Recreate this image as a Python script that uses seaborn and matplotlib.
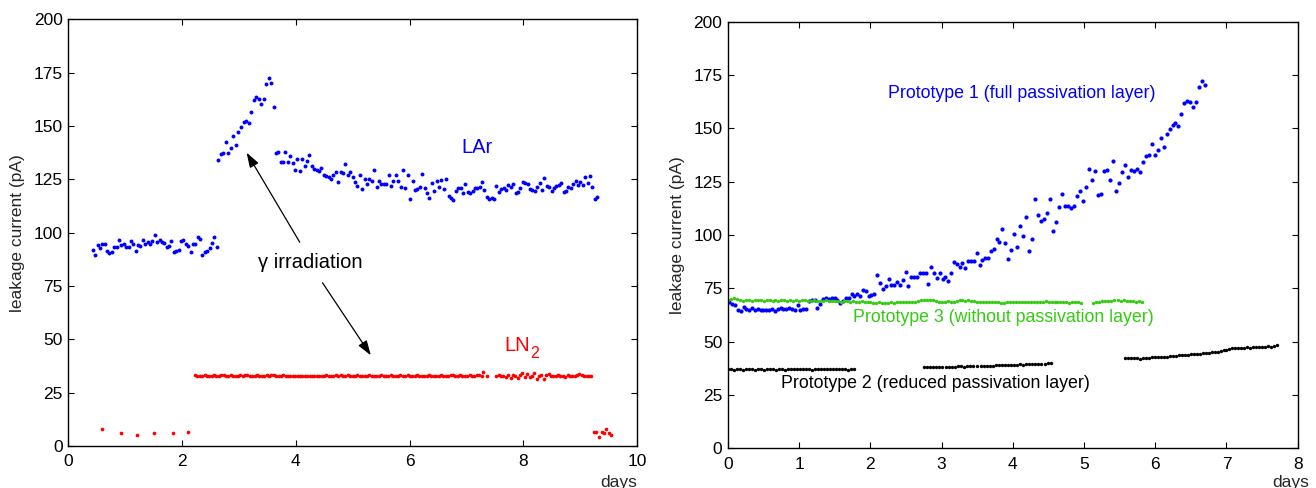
import numpy as np
import pandas as pd
import matplotlib
matplotlib.use("Agg")
import matplotlib.pyplot as plt
import seaborn as sns

# ---------------- data: left panel (LAr / LN2) ----------------
lar_a_range = (0.43, 2.61)
lar_a = [91.9, 89.4, 94.2, 92.7, 94.5, 94.8, 91.6, 90.5, 90.8, 93.1, 93.1, 96.6, 94.2, 94.8, 93.1,
         93.1, 96.1, 94.5, 91.4, 94.2, 93.9, 96.6, 94.8, 95.8, 94.8, 96.1, 99.1, 95.5, 96.6, 95.8,
         95.2, 93.3, 93.8, 96.1, 90.8, 91.3, 91.7, 96.1, 96.6, 94.5, 93.9, 90.8, 94.8, 94.8, 98.1,
         97.0, 89.4, 91.0, 91.6, 92.8, 95.2, 98.1, 93.3]
lar_b_range = (2.64, 3.61)
lar_b = [134.2, 137.0, 137.5, 142.7, 137.5, 139.5, 145.3, 141.1, 147.3, 149.7, 152.0, 152.3,
         151.3, 156.7, 162.0, 163.4, 162.5, 160.2, 162.5, 169.5, 172.3, 170.3, 159.1]
lar_c_range = (3.65, 9.30)
lar_c = [137.4, 137.7, 133.2, 133.2, 137.7, 133.2, 136.1, 132.8, 129.2, 134.7,
         128.8, 134.4, 131.1, 133.6, 136.3, 131.3, 129.7, 129.4, 129.1, 130.2,
         126.9, 126.6, 126.3, 125.0, 126.9, 128.3, 123.6, 128.3, 127.8, 132.4,
         126.9, 128.3, 126.0, 123.6, 121.9, 126.9, 120.5, 125.3, 122.7, 125.3,
         124.1, 129.2, 121.4, 124.4, 122.7, 122.7, 122.7, 126.9, 121.9, 124.4,
         126.9, 124.1, 121.4, 129.4, 121.0, 126.9, 115.6, 124.1, 119.9, 120.5,
         121.4, 127.5, 121.0, 118.8, 116.1, 123.2, 119.6, 124.1, 121.4, 124.6,
         120.5, 125.0, 117.2, 116.1, 115.2, 119.6, 121.0, 121.0, 118.6, 122.7,
         118.9, 118.6, 119.6, 120.7, 120.7, 121.4, 123.6, 120.0, 116.6, 115.6,
         116.4, 115.6, 121.9, 119.1, 120.5, 121.0, 120.0, 122.2, 121.4, 122.7,
         118.6, 119.1, 121.0, 123.6, 123.2, 122.7, 120.5, 120.0, 119.6, 121.4,
         123.2, 120.0, 125.5, 121.9, 121.4, 119.6, 121.0, 121.9, 122.4, 123.2,
         119.1, 119.6, 121.4, 121.0, 122.7, 124.1, 122.4, 123.6, 122.4, 126.0,
         123.2, 126.4, 121.4, 115.6, 116.7]

ln2_a_x = [0.587, 0.921, 1.213, 1.501, 1.835, 2.109]
ln2_a = [8.0, 6.2, 5.2, 5.9, 5.9, 6.4]
ln2_b_range = (2.227, 7.267)
ln2_b = [33.2, 33.0, 32.9, 33.0, 33.1, 33.0, 32.8, 33.0, 33.1, 32.6, 33.0, 33.1, 33.2, 33.0, 32.9, 33.1, 33.0, 33.0, 32.8, 33.1,
         33.0, 33.1, 33.2, 33.0, 32.9, 33.0, 33.1, 33.0, 32.9, 33.0, 33.1, 33.0, 33.1, 33.2, 33.0, 32.9, 33.0, 33.1, 33.0, 32.9,
         33.0, 32.8, 32.7, 32.8, 32.9, 32.8, 32.9, 32.8, 32.7, 32.9, 32.8, 33.0, 33.0, 32.9, 33.0, 33.1, 33.0, 32.9, 33.0, 33.1,
         33.0, 33.2, 33.0, 32.9, 33.1, 33.0, 32.8, 33.0, 33.1, 33.0, 32.7, 33.0, 32.9, 33.1, 33.0, 33.0, 32.8, 33.0, 33.1, 33.0,
         32.9, 33.0, 33.1, 33.0, 32.8, 33.0, 33.1, 33.0, 32.9, 33.1, 33.0, 33.0, 32.9, 33.1, 33.0, 33.0, 32.9, 33.0, 33.1, 33.0,
         33.0, 32.9, 33.0, 33.1, 33.0, 32.9, 33.0, 33.1, 33.2, 33.0, 32.9, 33.1, 33.0, 33.0, 32.9, 33.1, 33.0, 33.0, 33.1, 33.2, 32.9]
ln2_c_x = [7.30, 7.37]
ln2_c = [34.7, 33.0]
ln2_d_range = (7.525, 9.197)
ln2_d = [33.0, 33.2, 32.8, 33.0, 32.5, 33.3, 32.0, 33.5, 32.8, 31.8, 33.2, 34.0, 32.5, 33.6, 32.2, 33.0, 34.2,
         31.6, 32.8, 33.4, 31.5, 33.2, 33.6, 32.8, 33.0, 32.6, 33.2, 32.8, 33.0, 32.5, 33.1, 32.7, 33.0, 32.6,
         33.4, 33.6, 33.5, 32.8, 33.0, 32.7, 33.0]
ln2_e_x = [9.245, 9.287, 9.333, 9.380, 9.415, 9.462, 9.503, 9.550]
ln2_e = [6.6, 6.6, 4.1, 6.6, 6.0, 8.0, 6.2, 5.0]

# ---------------- data: right panel (prototypes) ----------------
p1_a_range = (0.019, 4.011)
p1_a = [68.4, 67.5, 67.0, 65.0, 64.5, 66.4, 65.5, 65.0, 65.8, 65.0, 65.3, 65.0, 65.0, 65.0, 64.7,
        65.5, 64.5, 65.5, 65.8, 65.5, 65.5, 65.8, 65.5, 65.0, 67.0, 64.7, 65.5, 65.5, 69.2, 69.5,
        69.7, 65.9, 67.8, 69.8, 70.5, 69.8, 70.6, 70.5, 69.4, 68.0, 69.1, 70.3, 70.5, 72.2, 71.4,
        72.2, 71.3, 74.1, 73.6, 71.3, 71.7, 72.2, 81.1, 77.5, 74.7, 75.9, 79.5, 76.6, 76.6, 78.0,
        76.4, 78.9, 82.5, 75.9, 80.5, 80.5, 80.5, 82.0, 82.0, 82.3, 77.0, 84.8, 82.0, 80.0, 82.0,
        79.5, 80.5, 78.6, 82.0, 87.3, 86.3, 84.8, 86.9, 84.4, 87.8, 87.8, 87.8, 91.4, 85.8, 88.3,
        89.4, 89.4, 92.3, 93.3, 98.1, 96.7, 103.0, 96.3, 88.9, 92.8, 100.6]
p1_b_range = (4.058, 6.704)
p1_b = [94.2, 104.3, 99.5, 108.4, 92.3, 98.1, 116.7, 109.3, 106.4, 107.3, 110.3, 116.7, 102.0,
        106.2, 113.3, 119.0, 113.7, 113.7, 112.8, 113.7, 118.1, 120.6, 115.8, 122.5, 130.9, 125.9,
        129.8, 118.6, 119.0, 129.8, 130.3, 125.9, 134.7, 120.6, 124.5, 129.3, 132.6, 127.3, 130.3,
        129.8, 130.8, 129.3, 134.2, 137.2, 137.6, 142.5, 137.6, 139.7, 145.4, 141.1, 147.3, 149.8,
        151.7, 152.3, 151.2, 156.7, 162.0, 162.9, 162.5, 160.0, 162.5, 169.4, 172.2, 170.3]

p3_a_range = (0.0, 4.96)
p3_a = [69.5, 69.8, 70.6, 69.9, 69.4, 69.2, 69.5, 69.3, 69.1, 69.4, 69.3, 69.5, 69.2, 69.3, 69.4, 69.1, 69.3, 69.2, 69.4, 69.3,
        69.2, 69.4, 69.1, 69.3, 69.2, 69.5, 69.3, 69.0, 69.2, 69.3, 69.1, 69.2, 69.0, 69.3, 69.1, 68.9, 69.2, 69.0, 68.8, 69.1,
        68.9, 68.7, 69.0, 68.8, 68.6, 68.9, 68.7, 68.5, 68.6, 68.3, 68.2, 68.4, 68.1, 68.3, 68.2, 68.4, 68.3, 68.5, 68.6, 68.4,
        68.6, 68.7, 68.5, 68.8, 69.0, 69.3, 69.5, 69.4, 69.6, 69.3, 69.1, 68.8, 68.6, 68.7, 68.9, 68.6, 68.8, 69.2, 69.4, 69.5,
        69.2, 69.3, 69.0, 68.9, 68.7, 68.5, 68.8, 68.6, 68.7, 68.4, 68.6, 68.5, 68.1, 68.2, 68.4, 68.6, 68.8, 68.5, 68.7, 68.6,
        68.8, 68.6, 68.7, 68.5, 68.7, 68.8, 68.6, 68.9, 68.7, 68.5, 68.8, 68.6, 68.4, 68.6, 68.5, 68.3, 68.6, 68.4, 68.5, 68.3]
p3_b_range = (5.124, 5.816)
p3_b = [68.2, 68.6, 68.8, 69.0, 69.1, 69.2, 69.0, 69.3, 69.4, 69.2, 69.3, 69.1, 68.9, 69.0, 68.8, 68.9, 68.8]

p2_a_range = (0.0, 1.77)
p2_a = [37.0, 37.1, 36.9, 37.2, 37.0, 36.8, 37.1, 37.0, 37.2, 36.9, 37.0, 37.1, 36.8, 37.0, 37.2, 37.0,
        36.9, 37.1, 37.0, 36.8, 37.2, 37.1, 37.0, 37.3, 37.1, 37.0, 37.2, 37.1, 36.9, 37.2, 37.0, 37.1,
        37.3, 37.0, 37.1, 37.2, 37.0, 37.1, 37.3, 37.0, 36.9, 37.1, 37.0]
p2_b_range = (2.75, 3.49)
p2_b = [37.9, 38.0, 37.9, 38.1, 38.0, 38.2, 38.3, 38.2, 38.3, 38.2, 38.3, 38.4, 38.4, 38.3, 38.5, 38.4, 38.5, 38.5]
p2_c_range = (3.55, 4.53)
p2_c = [38.6, 38.7, 38.6, 38.8, 38.7, 38.9, 39.0, 38.9, 39.1, 39.0, 39.2, 39.1, 39.2, 39.3, 39.2, 39.4,
        39.3, 39.5, 39.4, 39.6, 39.7, 39.6, 39.9, 39.8]
p2_d_range = (5.58, 7.71)
p2_d = [42.5, 42.4, 42.3, 42.2, 42.1, 42.0, 42.1, 42.3, 42.2, 42.6, 42.8, 42.7, 42.9, 43.0, 42.9, 43.2,
        43.3, 43.2, 43.5, 43.6, 43.7, 43.9, 44.0, 44.1, 44.3, 44.2, 44.6, 44.8, 44.7, 45.0, 45.2, 45.1,
        45.6, 45.9, 46.2, 46.5, 46.8, 46.9, 47.0, 46.9, 47.2, 47.3, 47.1, 47.4, 47.5, 47.6, 47.5, 47.7,
        47.8, 47.7, 48.0, 48.2]

left_xticks = [0, 2, 4, 6, 8, 10]
right_xticks = [0, 1, 2, 3, 4, 5, 6, 7, 8]
yticks = [0, 25, 50, 75, 100, 125, 150, 175, 200]

BLUE = "#0000ff"
RED = "#ff0000"
GREEN = "#33cc11"
BLACK = "#000000"

# ---------------- build frames ----------------
def seg(rng, vals):
    return pd.DataFrame({"days": np.linspace(rng[0], rng[1], len(vals)), "pA": vals})

def pts(xs, vals):
    return pd.DataFrame({"days": xs, "pA": vals})

lar = pd.concat([seg(lar_a_range, lar_a), seg(lar_b_range, lar_b), seg(lar_c_range, lar_c)])
ln2 = pd.concat([pts(ln2_a_x, ln2_a), seg(ln2_b_range, ln2_b), pts(ln2_c_x, ln2_c),
                 seg(ln2_d_range, ln2_d), pts(ln2_e_x, ln2_e)])
p1 = pd.concat([seg(p1_a_range, p1_a), seg(p1_b_range, p1_b)])
p3 = pd.concat([seg(p3_a_range, p3_a), seg(p3_b_range, p3_b)])
p2 = pd.concat([seg(p2_a_range, p2_a), seg(p2_b_range, p2_b), seg(p2_c_range, p2_c), seg(p2_d_range, p2_d)])

# ---------------- style ----------------
sns.set_style("ticks")
plt.rcParams["font.family"] = ["Liberation Sans", "DejaVu Sans"]
plt.rcParams["xtick.direction"] = "in"
plt.rcParams["ytick.direction"] = "in"

W, H = 1316, 488
fig = plt.figure(figsize=(W / 100, H / 100), dpi=100)
axL = fig.add_axes([68.3 / W, (H - 446) / H, 568.7 / W, 426.7 / H])
axR = fig.add_axes([728 / W, (H - 448.3) / H, 569.7 / W, 426.7 / H])

sns.scatterplot(data=lar, x="days", y="pA", ax=axL, color=BLUE, s=8, linewidth=0, marker="o")
sns.scatterplot(data=ln2, x="days", y="pA", ax=axL, color=RED, s=7, linewidth=0, marker="o")

sns.scatterplot(data=p1, x="days", y="pA", ax=axR, color=BLUE, s=9, linewidth=0, marker="o")
sns.scatterplot(data=p3, x="days", y="pA", ax=axR, color=GREEN, s=6, linewidth=0, marker="o")
sns.scatterplot(data=p2, x="days", y="pA", ax=axR, color=BLACK, s=6, linewidth=0, marker="o")

for ax, xt, xmax in [(axL, left_xticks, 10), (axR, right_xticks, 8)]:
    ax.set_xlim(0, xmax)
    ax.set_ylim(0, 200)
    ax.set_xticks(xt)
    ax.set_yticks(yticks)
    ax.tick_params(axis="both", which="both", direction="in", length=4, width=0.8,
                   top=True, right=True, labelsize=12.5, colors="black")
    ax.tick_params(axis="x", pad=6)
    ax.tick_params(axis="y", pad=4)
    for sp in ax.spines.values():
        sp.set_visible(True)
        sp.set_linewidth(1.0)
        sp.set_color("black")
    ax.set_xlabel("")
    ax.set_ylabel("leakage current (pA)", fontsize=12.5, labelpad=6)
    ax.set_facecolor("white")

# "days" labels under lower-right corners
axL.annotate("days", xy=(1.0, 0.0), xycoords="axes fraction", xytext=(0, -21),
             textcoords="offset points", ha="right", va="top", fontsize=12.5)
axR.annotate("days", xy=(1.0, 0.0), xycoords="axes fraction", xytext=(8, -19.5),
             textcoords="offset points", ha="right", va="top", fontsize=12.5)

# left annotations
axL.text(6.92, 140, "LAr", color=BLUE, fontsize=14.5, ha="left", va="center")
axL.text(7.67, 47, "LN", color=RED, fontsize=14.5, ha="left", va="center")
axL.text(8.13, 43.5, "2", color=RED, fontsize=11.5, ha="left", va="center")
axL.text(4.25, 86, "γ irradiation", color="black", fontsize=14.5, ha="center", va="center")
arrow = dict(arrowstyle="-|>,head_length=0.9,head_width=0.3", color="black", lw=0.9,
             shrinkA=0, shrinkB=0)
axL.annotate("", xy=(3.135, 137.5), xytext=(4.07, 95.5), arrowprops=arrow)
axL.annotate("", xy=(5.32, 42.5), xytext=(4.47, 76.5), arrowprops=arrow)

# right annotations
axR.text(2.24, 166.5, "Prototype 1 (full passivation layer)", color=BLUE, fontsize=12.8,
         ha="left", va="center")
axR.text(1.75, 61.5, "Prototype 3 (without passivation layer)", color=GREEN, fontsize=12.8,
         ha="left", va="center")
axR.text(0.74, 30.5, "Prototype 2 (reduced passivation layer)", color=BLACK, fontsize=12.8,
         ha="left", va="center")

fig.savefig("out.png", dpi=100, facecolor="white")
